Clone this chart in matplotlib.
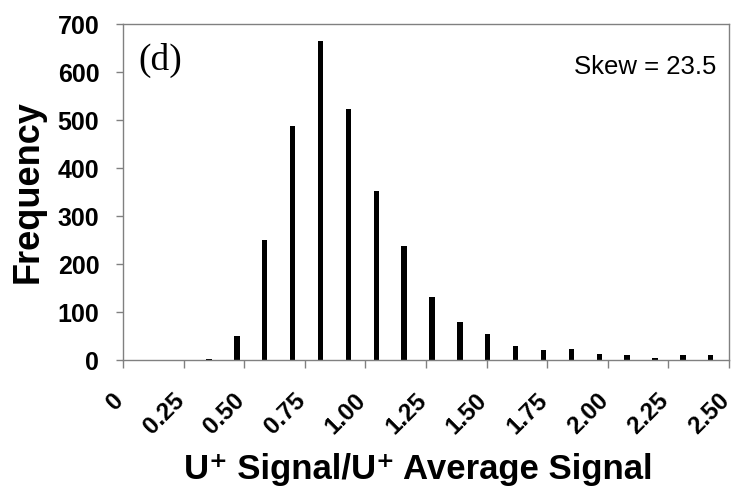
import matplotlib
matplotlib.use('Agg')
import matplotlib.pyplot as plt
from matplotlib.transforms import ScaledTranslation, blended_transform_factory

plt.rcParams['font.family'] = ['Liberation Sans', 'DejaVu Sans']

# центры интервалов и частоты
bins = [0.355, 0.47, 0.585, 0.70, 0.815, 0.93, 1.045, 1.16, 1.275, 1.39,
        1.505, 1.62, 1.735, 1.85, 1.965, 2.08, 2.195, 2.31, 2.425]
freq = [3, 49, 249, 487, 665, 522, 352, 237, 132, 80,
        54, 29, 21, 23, 12, 10, 5, 10, 10]

xticks = [0, 0.25, 0.5, 0.75, 1.0, 1.25, 1.5, 1.75, 2.0, 2.25, 2.5]
xlabels = ['0', '0.25', '0.50', '0.75', '1.00', '1.25', '1.50', '1.75', '2.00', '2.25', '2.50']
yticks = [0, 100, 200, 300, 400, 500, 600, 700]

fig = plt.figure(figsize=(7.35, 4.95), dpi=100)
ax = fig.add_axes([0.1673, 0.2727, 0.8245, 0.6788])

ax.bar(bins, freq, width=0.022, color='black')

ax.set_xlim(0, 2.5)
ax.set_ylim(0, 700)
ax.set_xticks(xticks)
ax.set_xticklabels([])
# подписи оси X рисуем сами - наклонные, чуть левее засечек
trans = blended_transform_factory(ax.transData, ax.transAxes) + \
    ScaledTranslation(-3 / 100, -37 / 100, fig.dpi_scale_trans)
for t, lab in zip(xticks, xlabels):
    ax.text(t, 0, lab, transform=trans, rotation=45, ha='right', va='center',
            rotation_mode='anchor', fontsize=17.5, fontweight='bold')

ax.set_yticks(yticks)
ax.set_yticklabels([str(v) for v in yticks], fontsize=18, fontweight='bold')

ax.tick_params(axis='x', length=6, width=1, color='#808080')
ax.tick_params(axis='y', length=5, width=1, color='#808080', pad=12)
for s in ax.spines.values():
    s.set_color('#808080')
    s.set_linewidth(1)

ax.set_ylabel('Frequency', fontsize=26, fontweight='bold', va='center')
ax.yaxis.set_label_coords(-0.157, 0.5)
ax.set_xlabel('U⁺ Signal/U⁺ Average Signal', fontsize=25, fontweight='bold', va='center')
ax.xaxis.set_label_coords(0.487, -0.327)

ax.text(0.025, 0.893, '(d)', transform=ax.transAxes, fontsize=27,
        family='Liberation Serif', ha='left', va='center')
ax.text(0.980, 0.872, 'Skew = 23.5', transform=ax.transAxes, fontsize=18.5,
        ha='right', va='center')

fig.savefig('out.png', dpi=100)
